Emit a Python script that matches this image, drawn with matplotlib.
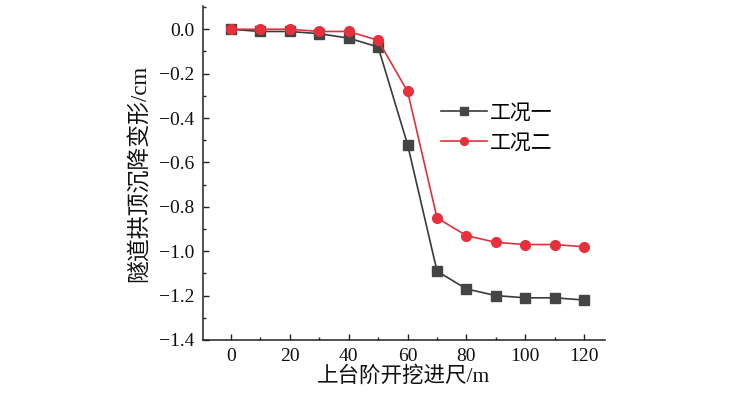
import matplotlib
matplotlib.use("Agg")
import matplotlib.pyplot as plt
from matplotlib.ticker import MultipleLocator

x = [0, 10, 20, 30, 40, 50, 60, 70, 80, 90, 100, 110, 120]
case1 = [0.0, -0.01, -0.01, -0.02, -0.04, -0.08, -0.52, -1.09, -1.17, -1.20, -1.21, -1.21, -1.22]
case2 = [0.0, 0.0, 0.0, -0.01, -0.01, -0.05, -0.28, -0.85, -0.93, -0.96, -0.97, -0.97, -0.98]
labels = ["工况一", "工况二"]
xlabel = "上台阶开挖进尺/m"
ylabel = "隧道拱顶沉降变形/cm"

mixed = ["Liberation Serif", "Noto Sans CJK SC"]
serif = ["Liberation Serif", "DejaVu Serif"]

fig = plt.figure(figsize=(7.34, 3.97), dpi=100)
ax = fig.add_axes([0.2766, 0.1436, 0.5474, 0.8414])

ax.plot(x, case1, color="#3a3a3a", marker="s", markersize=6.5, linewidth=1.2,
        label=labels[0], markerfacecolor="#444444", markeredgecolor="#444444")
ax.plot(x, case2, color="#e0303c", marker="o", markersize=7, linewidth=1.2,
        label=labels[1], markerfacecolor="#e8303c", markeredgecolor="#e8303c")

ax.set_xlim(-9.5, 127)
ax.set_ylim(-1.4, 0.105)
ax.xaxis.set_major_locator(MultipleLocator(20))
ax.xaxis.set_minor_locator(MultipleLocator(10))
ax.yaxis.set_minor_locator(MultipleLocator(0.1))
ax.set_yticks([0.0, -0.2, -0.4, -0.6, -0.8, -1.0, -1.2, -1.4])
ax.set_yticklabels(["0.0", "\u22120.2", "\u22120.4", "\u22120.6", "\u22120.8", "\u22121.0", "\u22121.2", "\u22121.4"])

for s in ["top", "right"]:
    ax.spines[s].set_visible(False)
for s in ["left", "bottom"]:
    ax.spines[s].set_linewidth(1.1)
    ax.spines[s].set_color("#222222")

ax.tick_params(which="major", direction="in", length=4, width=1.0, colors="#222222",
               labelsize=14, pad=6)
ax.tick_params(which="minor", direction="in", length=2.5, width=1.0, colors="#222222")
for lab in ax.get_xticklabels() + ax.get_yticklabels():
    lab.set_fontfamily(serif)
    lab.set_color("#111111")

ax.set_xlabel(xlabel, fontsize=15.5, family=mixed, labelpad=1, color="#111111")
ax.set_ylabel(ylabel, fontsize=16.5, family=mixed, labelpad=6, color="#111111")

leg = ax.legend(loc="upper left", bbox_to_anchor=(0.545, 0.762), frameon=False,
                prop={"family": mixed, "size": 15}, handlelength=2.2,
                handletextpad=0.15, labelspacing=0.5, markerscale=0.8)

fig.savefig("out.png", dpi=100)
